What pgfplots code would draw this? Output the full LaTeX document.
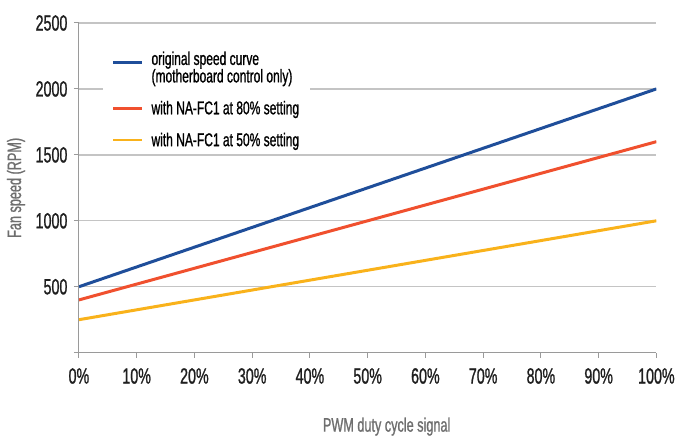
\documentclass[border=0pt]{standalone}
\usepackage{fontspec}
\setmainfont{Liberation Sans}[FakeStretch=0.65, FakeBold=1.0]
\usepackage{pgfplots}
\pgfplotsset{compat=1.18}
\definecolor{cblue}{HTML}{1F4E9A}
\definecolor{cred}{HTML}{F0502E}
\definecolor{cyellow}{HTML}{F9B21B}
\definecolor{gridc}{HTML}{C4C4C4}
\definecolor{axisc}{HTML}{9A9A9A}
\definecolor{labc}{HTML}{6E6E6E}
\begin{document}
\begin{tikzpicture}
\begin{axis}[
  scale only axis, width=578pt, height=330pt,
  xmin=0, xmax=100, ymin=0, ymax=2500,
  axis lines*=left,
  axis line style={axisc, line width=1pt},
  xtick={0,10,...,100},
  ytick={0,500,...,2500},
  yticklabels={,500,1000,1500,2000,2500},
  xticklabel={\pgfmathprintnumber{\tick}\%},
  tick align=outside,
  major tick length=5pt,
  tick style={axisc, line width=1pt},
  ymajorgrids,
  grid style={gridc, line width=1.3pt},
  ticklabel style={font=\fontsize{22}{24}\selectfont, text=black!88},
  xticklabel style={yshift=-7pt},
  yticklabel style={xshift=-3pt},
  /pgf/number format/assume math mode=true,
  xlabel={PWM duty cycle signal},
  ylabel={Fan speed (RPM)},
  label style={font=\fontsize{19.5}{22}\selectfont, text=labc},
  xlabel style={at={([xshift=19pt,yshift=-74pt]rel axis cs:0.5,0)}, anchor=center},
  ylabel style={at={([xshift=-63pt]rel axis cs:0,0.5)}, anchor=center},
  legend style={at={(rel axis cs:0.0415,0.9634)}, anchor=north west, draw=none, fill=white,
    font=\fontsize{18.5}{17.5}\selectfont, inner xsep=9pt, inner ysep=4pt, row sep=13pt,
    column sep=6pt, nodes={inner sep=2pt},
    cells={anchor=west, align=left}},
  legend image code/.code={\draw[#1, line width=2.5pt] (0pt,0pt) -- (29pt,0pt);},
]
\addplot[cblue, line width=3pt] coordinates {(0,500) (100,2000)};
\addlegendentry{\rule{0pt}{23.7pt}original speed curve\\(motherboard control only)\rule[-12pt]{0pt}{12pt}}
\addplot[cred, line width=3pt] coordinates {(0,400) (100,1600)};
\addlegendentry{with NA-FC1 at 80\% setting}
\addplot[cyellow, line width=3pt] coordinates {(0,250) (100,1000)};
\addlegendentry{with NA-FC1 at 50\% setting}
\end{axis}
\path ([xshift=-79pt,yshift=23pt]current axis.north west) ([xshift=21pt,yshift=-83pt]current axis.south east);
\end{tikzpicture}
\end{document}
